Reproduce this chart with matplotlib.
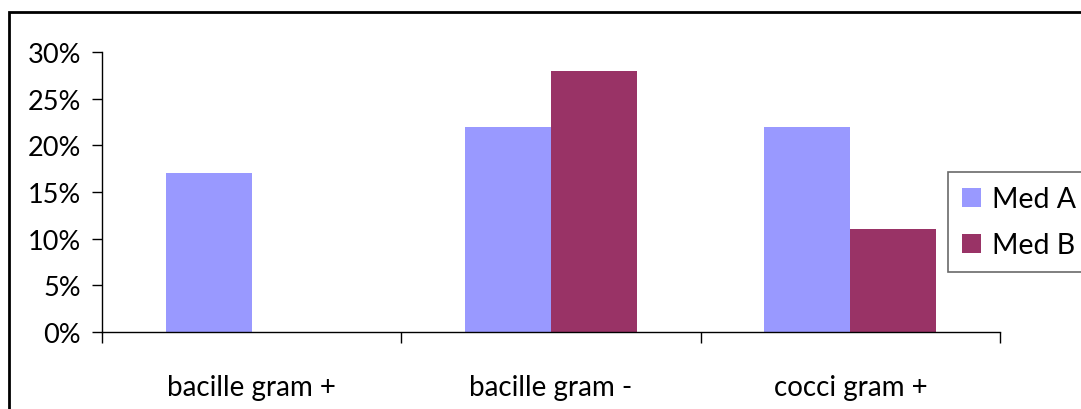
import matplotlib
matplotlib.use("Agg")
import matplotlib.pyplot as plt
import numpy as np
from matplotlib.patches import Rectangle
from matplotlib.ticker import FuncFormatter

categories = ["bacille gram +", "bacille gram -", "cocci gram +"]
med_a = [0.17, 0.22, 0.22]
med_b = [0.0, 0.28, 0.11]
series_names = ["Med A", "Med B"]
yticks = [0, 0.05, 0.10, 0.15, 0.20, 0.25, 0.30]

plt.rcParams['font.family'] = ['Lato', 'DejaVu Sans']

W, H = 1081, 410
fig = plt.figure(figsize=(W/100, H/100), dpi=100)
ax = fig.add_axes([102/W, 1-333/H, (1000-102)/W, (333-53)/H])

x = np.arange(len(categories))
bw = 0.287
ax.bar(x - bw/2, med_a, width=bw, color='#9999FF', label=series_names[0])
ax.bar(x + bw/2, med_b, width=bw, color='#993366', label=series_names[1])

ax.set_xlim(-0.5, len(categories) - 0.5)
ax.set_ylim(0, 0.30)
ax.set_yticks(yticks)
ax.yaxis.set_major_formatter(FuncFormatter(lambda v, p: f"{v*100:.0f}%"))
ax.set_xticks(np.arange(-0.5, len(categories)), minor=False)
ax.set_xticklabels([])
ax.set_xticks(x, minor=True)
ax.set_xticklabels(categories, minor=True)
ax.tick_params(axis='x', which='major', length=8, width=1, color='black', direction='out')
ax.tick_params(axis='x', which='minor', length=0, pad=30, labelsize=20)
ax.tick_params(axis='y', length=7, width=1, direction='out', labelsize=19.5, pad=8)
for s in ['top', 'right']:
    ax.spines[s].set_visible(False)
for s in ['left', 'bottom']:
    ax.spines[s].set_linewidth(1)
    ax.spines[s].set_color('black')

leg = fig.legend(loc='upper left', bbox_to_anchor=(948/W, 1-173/H), fontsize=20.5,
                 frameon=True, fancybox=False, edgecolor='#444444', handlelength=0.65,
                 handleheight=0.65, handletextpad=0.4, borderpad=0.5, labelspacing=0.7,
                 borderaxespad=0)
leg.get_frame().set_linewidth(1.2)

fig.patches.append(Rectangle((9/W, -0.1), 1.2, 1-13/H+0.1, transform=fig.transFigure,
                             fill=False, edgecolor='black', linewidth=2))

fig.savefig("out.png", dpi=100)
